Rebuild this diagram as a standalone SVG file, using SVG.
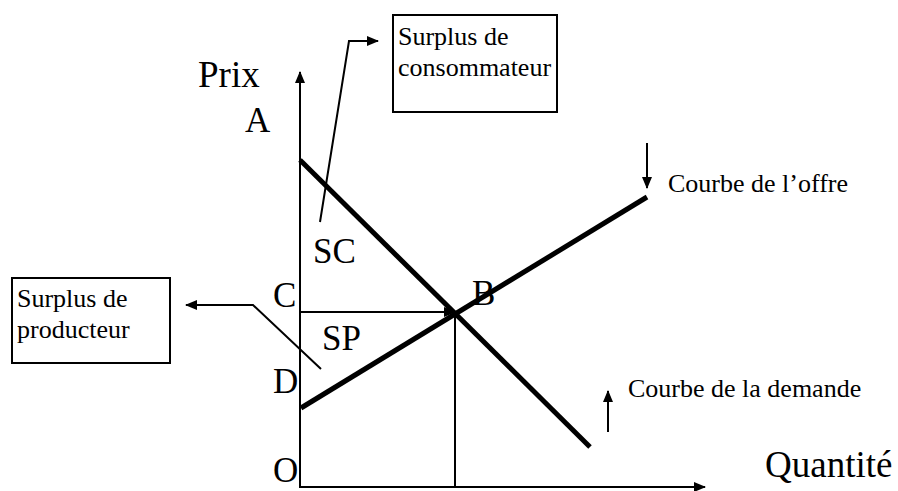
<svg xmlns="http://www.w3.org/2000/svg" width="898" height="491" viewBox="0 0 898 491">
<style>
text{font-family:"Liberation Serif","Times New Roman",serif;fill:#000}
.big{font-size:35px}
.lg{font-size:37px}
.sm{font-size:26px}
.ax{stroke:#000;stroke-width:2;fill:none}
.thick{stroke:#000;stroke-width:5;fill:none}
.thin{stroke:#000;stroke-width:2;fill:none}
.box{stroke:#000;stroke-width:2;fill:#fff}
</style>
<defs>
<marker id="ah" markerUnits="userSpaceOnUse" markerWidth="12" markerHeight="10" refX="11" refY="5" orient="auto">
<path d="M0,0 L12,5 L0,10 Z" fill="#000"/>
</marker>
</defs>
<rect width="898" height="491" fill="#fff"/>
<g id="connectors">
<line class="ax" x1="300" y1="488" x2="300" y2="72" marker-end="url(#ah)"/>
<line class="ax" x1="300" y1="487" x2="705" y2="487" marker-end="url(#ah)"/>
<line class="thick" x1="300" y1="160" x2="590" y2="447"/>
<line class="thick" x1="301" y1="408" x2="647" y2="197"/>
<line class="thin" x1="300" y1="312" x2="455" y2="312" marker-end="url(#ah)"/>
<line class="thin" x1="455" y1="314" x2="455" y2="487"/>
<polyline class="thin" points="320,222 349,41 378,41" marker-end="url(#ah)"/>
<polyline class="thin" points="321,369 253,305 186,305" marker-end="url(#ah)"/>
<line class="thin" x1="647" y1="143" x2="647" y2="188" marker-end="url(#ah)"/>
<line class="thin" x1="608" y1="432" x2="608" y2="391" marker-end="url(#ah)"/>
</g>
<g id="consumer-box">
<rect class="box" x="393" y="15" width="164" height="97"/>
<text class="sm" x="398" y="45">Surplus de</text>
<text class="sm" x="398" y="76">consommateur</text>
</g>
<g id="producer-box">
<rect class="box" x="12" y="278" width="158" height="85"/>
<text class="sm" x="17" y="307">Surplus de</text>
<text class="sm" x="17" y="338">producteur</text>
</g>
<g id="labels">
<text class="lg" x="198" y="87">Prix</text>
<text class="big" x="245" y="132">A</text>
<text class="big" x="313" y="263">SC</text>
<text class="big" x="273" y="307">C</text>
<text class="big" x="472" y="305">B</text>
<text class="big" x="322" y="350">SP</text>
<text class="big" x="273" y="393">D</text>
<text class="big" x="273" y="482">O</text>
<text class="lg" x="765" y="477">Quantité</text>
<text class="sm" x="668" y="192">Courbe de l’offre</text>
<text class="sm" x="628" y="397">Courbe de la demande</text>
</g>
</svg>
